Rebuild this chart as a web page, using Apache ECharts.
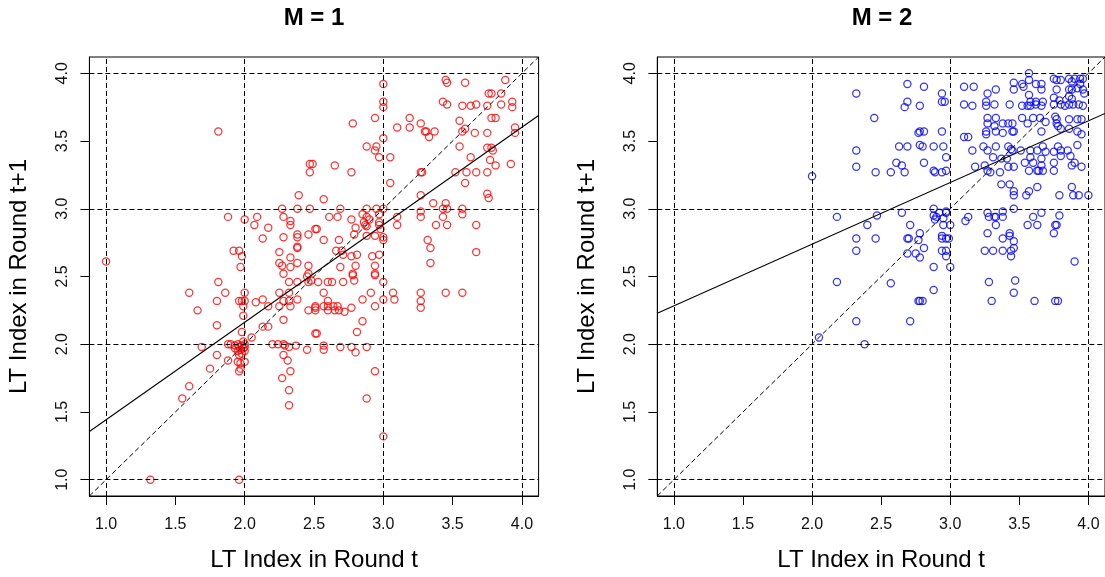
<!DOCTYPE html>
<html><head><meta charset="utf-8">
<script src="https://cdn.jsdelivr.net/npm/echarts@6/dist/echarts.min.js"></script>
<style>html,body{margin:0;padding:0;background:#fff}#c{width:1105px;height:577px}</style>
</head><body><div id="c"></div>
<script>
const panelTitles = ['M = 1', 'M = 2'];
const xTitle = 'LT Index in Round t';
const yTitle = 'LT Index in Round t+1';
const tickValues = [1, 1.5, 2, 2.5, 3, 3.5, 4];
const refLines = [1, 2, 3, 4];
const axisRange = [0.88, 4.12];
const fitM1 = [0.722, 0.720]; // intercept, slope
const fitM2 = [1.829, 0.455];

const pointsM1 = [
[1.81,3.57],[2.47,3.33],[2.49,3.33],[2.47,3.27],[2.39,3.10],[2.27,3.0],[2.38,3.0],[2.47,3.0],
[1.88,2.94],[2.0,2.92],[2.09,2.94],[2.07,2.88],[2.28,2.94],[2.33,2.91],[2.33,2.88],[2.17,2.86],[2.13,2.78],[2.28,2.79],[2.38,2.81],[2.38,2.79],[2.38,2.72],[2.38,2.71],[2.46,2.81],[2.51,2.85],
[1.92,2.69],[1.96,2.69],[1.98,2.65],[1.97,2.57],[2.25,2.68],[2.25,2.60],[2.27,2.58],[2.33,2.64],[2.33,2.57],[2.38,2.60],[2.28,2.52],[2.46,2.58],[2.46,2.52],
[1.0,2.61],
[2.48,2.47],[2.46,2.46],[1.81,2.46],[1.60,2.38],[1.86,2.38],[1.80,2.32],[1.66,2.25],
[1.96,2.32],[1.98,2.32],[2.0,2.32],[2.0,2.38],[1.99,2.28],[2.08,2.31],[2.13,2.33],[2.17,2.28],[2.25,2.38],
[2.25,2.28],[2.28,2.32],[2.32,2.32],[2.33,2.28],[2.38,2.33],[2.32,2.38],[2.32,2.46],[2.38,2.46],
[2.46,2.25],[2.51,2.27],[2.28,2.18],[1.80,2.14],[1.99,2.21],[1.98,2.09],[2.05,2.05],[2.13,2.13],[2.17,2.13],[2.51,2.08],
[1.69,1.98],[1.88,2.0],[1.90,2.0],[1.93,1.99],[1.95,2.0],[1.96,1.98],[1.98,1.99],[2.0,2.0],[1.97,1.96],[1.99,1.97],[1.95,1.95],[2.0,1.95],[1.98,1.93],[1.96,1.92],[1.93,1.97],[2.0,1.98],[1.99,2.02],
[1.80,1.92],[1.88,1.88],[1.95,1.87],[1.97,1.86],[2.0,1.87],[1.96,1.80],[1.97,1.82],[1.75,1.82],[1.60,1.69],[1.55,1.60],
[2.20,2.0],[2.24,2.0],[2.28,2.0],[2.29,1.99],[2.32,1.98],[2.37,1.99],[2.28,1.92],[2.31,1.88],[2.33,1.80],[2.27,1.75],[2.32,1.66],[2.32,1.55],[2.45,1.96],
[1.32,1.0],[1.96,1.0],
[3.0,3.92],[3.0,3.79],[3.0,3.75],[2.94,3.67],[2.78,3.63],[3.0,3.52],[2.88,3.46],[2.95,3.46],[2.94,3.43],[2.97,3.38],[3.05,3.38],[3.05,3.19],
[2.65,3.32],[2.77,3.27],[2.57,3.07],[2.69,3.0],[2.88,3.0],[2.95,3.0],[3.0,3.0],
[2.61,2.94],[2.67,2.94],[2.77,2.92],[2.85,2.96],[2.86,2.90],[2.88,2.94],[2.90,2.92],[2.97,2.96],[2.97,2.90],
[2.87,2.88],[2.88,2.87],[2.80,2.86],[2.97,2.88],[2.98,2.85],[2.52,2.85],
[2.57,2.77],[2.68,2.77],[2.79,2.81],[2.88,2.80],[2.94,2.80],[3.0,2.77],[3.0,2.79],
[2.66,2.69],[2.70,2.69],[2.71,2.66],[2.77,2.65],[2.81,2.66],[2.92,2.65],[2.97,2.66],
[2.69,2.57],[2.80,2.58],[2.94,2.58],[2.78,2.52],[2.94,2.52],
[3.10,3.60],[3.19,3.67],[3.19,3.60],[3.27,3.63],[3.30,3.57],[3.31,3.57],[3.33,3.53],[3.37,3.57],
[3.27,3.27],[3.28,3.27],[3.27,3.10],[3.36,3.04],[3.45,3.04],[3.46,3.0],[3.43,3.0],[3.57,3.0],[3.57,2.96],
[3.27,2.98],[3.27,2.94],[3.10,2.94],[3.10,2.88],[3.43,2.94],[3.38,2.88],[3.46,2.88],[3.67,2.88],
[3.32,2.77],[3.34,2.71],[3.34,2.60],[3.67,2.68],
[3.45,3.95],[3.46,3.93],[3.59,3.93],[3.88,3.95],[3.76,3.85],[3.78,3.85],[3.85,3.85],
[3.43,3.79],[3.46,3.77],[3.57,3.76],[3.63,3.76],[3.67,3.77],[3.75,3.76],[3.85,3.77],[3.93,3.79],[3.93,3.75],
[3.55,3.65],[3.59,3.59],[3.57,3.57],[3.66,3.56],[3.78,3.67],[3.81,3.67],[3.95,3.60],[3.95,3.56],[3.75,3.56],
[3.55,3.46],[3.63,3.38],[3.75,3.45],[3.78,3.45],[3.79,3.43],[3.77,3.36],[3.81,3.32],[3.92,3.33],
[3.52,3.27],[3.60,3.27],[3.67,3.27],[3.75,3.27],[3.59,3.19],[3.75,3.11],[3.76,3.08],
[2.45,2.50],[2.53,2.46],[2.60,2.46],[2.63,2.46],[2.71,2.46],[2.78,2.51],[2.79,2.47],[2.94,2.51],[3.0,2.46],
[2.57,2.38],[2.91,2.38],[3.07,2.38],[3.27,2.38],[3.45,2.38],[3.57,2.38],
[2.60,2.32],[2.85,2.33],[3.0,2.33],[3.08,2.33],[3.27,2.32],
[2.51,2.28],[2.51,2.25],[2.57,2.28],[2.60,2.28],[2.64,2.28],[2.67,2.28],[2.60,2.25],[2.65,2.25],[2.68,2.25],[2.72,2.24],[2.77,2.27],[2.94,2.28],[3.27,2.27],
[2.85,2.17],[2.52,2.08],[2.81,2.09],
[2.57,1.99],[2.57,1.96],[2.69,1.98],[2.77,1.98],[2.80,1.94],[2.88,1.98],
[2.94,1.80],[2.88,1.60],[3.0,1.32]
];

const pointsM2 = [
[2.32,3.85],[2.32,3.43],[2.32,3.31],[2.0,3.24],[2.18,2.94],[2.40,2.88],[2.32,2.78],[2.32,2.69],
[2.18,2.46],[2.57,2.45],[2.32,2.17],[2.05,2.05],[2.38,2.0],
[2.88,2.40],[2.77,2.32],[2.78,2.32],[2.80,2.32],[2.71,2.17],
[3.28,2.46],[3.47,2.47],[3.46,2.38],[3.30,2.32],[3.61,2.32],[3.76,2.32],[3.78,2.32],
[3.57,4.0],[3.57,3.95],[2.69,3.92],[2.81,3.90],[3.10,3.90],[3.17,3.90],[3.33,3.88],
[3.46,3.93],[3.46,3.88],[3.52,3.92],[3.53,3.90],[3.62,3.92],[3.66,3.92],[3.66,3.88],
[3.75,3.96],[3.77,3.95],[3.80,3.95],[3.86,3.96],[3.88,3.94],[3.90,3.96],[3.94,3.96],[3.96,3.96],
[3.94,3.92],[3.96,3.88],[3.97,3.85],[3.77,3.88],[3.86,3.88],[3.88,3.88],[3.92,3.89],
[2.94,3.85],[2.94,3.79],[2.96,3.79],[2.69,3.79],[2.67,3.75],[2.78,3.76],
[3.27,3.85],[3.26,3.79],[3.26,3.76],[3.32,3.77],[3.10,3.77],[3.16,3.76],[3.43,3.77],
[3.52,3.76],[3.56,3.76],[3.58,3.76],[3.62,3.77],[3.66,3.76],
[3.57,3.84],[3.58,3.79],[3.62,3.79],[3.67,3.79],
[3.75,3.82],[3.79,3.80],[3.86,3.83],[3.88,3.81],
[3.75,3.77],[3.80,3.77],[3.83,3.76],[3.86,3.77],[3.89,3.77],[3.93,3.77],[3.96,3.76],
[2.45,3.67],
[3.27,3.67],[3.33,3.67],[3.42,3.63],[3.27,3.63],[3.32,3.61],[3.38,3.63],[3.45,3.63],
[3.52,3.67],[3.56,3.63],[3.60,3.67],[3.65,3.67],
[3.69,3.64],[3.76,3.68],[3.77,3.66],[3.77,3.63],[3.78,3.61],[3.80,3.59],
[3.86,3.66],[3.92,3.66],[3.95,3.66],
[2.78,3.57],[2.77,3.56],[2.81,3.57],[2.94,3.57],
[3.26,3.57],[3.26,3.55],[3.33,3.57],[3.38,3.56],[3.45,3.57],[3.46,3.57],
[3.66,3.57],[3.86,3.59],[3.92,3.57],[3.95,3.55],
[3.10,3.53],[3.13,3.53],
[2.63,3.46],[2.69,3.46],[2.78,3.47],[2.80,3.46],[2.88,3.46],[2.95,3.46],
[3.16,3.43],[3.24,3.46],[3.27,3.43],[3.33,3.46],
[3.42,3.46],[3.44,3.44],[3.45,3.43],[3.51,3.43],
[3.58,3.43],[3.63,3.43],[3.67,3.46],[3.69,3.42],[3.75,3.42],[3.78,3.46],[3.80,3.43],[3.85,3.43],[3.92,3.47],
[2.97,3.38],[3.31,3.38],[3.37,3.37],[3.41,3.37],
[3.58,3.38],[3.66,3.37],[3.80,3.39],[3.87,3.39],
[2.61,3.34],[2.65,3.32],[2.67,3.27],[2.81,3.34],[2.46,3.27],[2.57,3.27],
[2.88,3.28],[2.89,3.27],[2.94,3.27],[2.97,3.28],
[3.18,3.31],[3.25,3.32],[3.27,3.28],[3.29,3.27],[3.36,3.27],[3.42,3.31],[3.46,3.31],
[3.54,3.34],[3.60,3.34],[3.66,3.32],
[3.57,3.28],[3.63,3.28],[3.64,3.28],[3.67,3.28],[3.75,3.28],[3.75,3.34],
[3.88,3.32],[3.90,3.34],[3.95,3.31],
[3.37,3.18],[3.43,3.18],[3.46,3.13],[3.46,3.10],[3.57,3.13],[3.55,3.10],[3.63,3.16],
[3.88,3.16],[3.89,3.10],[3.93,3.10],[4.0,3.10],[3.79,3.10],
[2.47,2.95],[2.65,2.97],[2.88,3.0],[2.88,2.95],[2.90,2.94],[2.92,2.97],[2.97,2.97],[2.97,2.98],[2.95,2.93],[2.89,2.92],
[2.71,2.88],[2.95,2.88],[3.0,2.88],
[3.11,2.91],[3.13,2.94],[3.27,2.97],[3.28,2.94],[3.32,2.94],[3.33,2.94],[3.38,2.98],[3.38,2.94],[3.46,3.0],[3.33,2.88],
[3.56,2.88],[3.60,2.94],[3.63,2.88],[3.66,2.97],[3.76,2.88],[3.77,2.88],[3.79,2.95],[3.75,2.82],
[2.46,2.78],[2.69,2.78],[2.70,2.78],[2.78,2.82],[2.77,2.77],[2.94,2.80],[2.94,2.78],[2.97,2.78],[2.99,2.78],
[3.27,2.82],[3.38,2.78],[3.43,2.82],[3.43,2.80],[3.46,2.76],
[2.81,2.71],[2.94,2.69],[2.97,2.69],[2.69,2.67],[2.75,2.67],[2.78,2.64],[2.97,2.65],
[3.25,2.69],[3.31,2.69],[3.38,2.69],[3.44,2.69],[3.46,2.71],[3.44,2.65],
[2.88,2.57],[3.0,2.57],[3.90,2.61]
];

const FONT = "'Liberation Sans', Arial, Helvetica, sans-serif";
const panels = [
  {title: panelTitles[0], pts: pointsM1, fit: fitM1, color: '#FF0000', left: 89.4, cx: 314},
  {title: panelTitles[1], pts: pointsM2, fit: fitM2, color: '#0000FF', left: 657.3, cx: 882}
];
const gridW = 449.2, gridTop = 57, gridH = 439;

const grids = [], xAxes = [], yAxes = [], series = [], titles = [];
panels.forEach((p, i) => {
  grids.push({left: p.left, top: gridTop, width: gridW, height: gridH, show: true,
    borderColor: '#000', borderWidth: 1, backgroundColor: 'transparent', containLabel: false});
  titles.push({text: p.title, left: p.cx, top: 6, textAlign: 'center', padding: 0,
    textStyle: {fontSize: 24, fontWeight: 'bold', color: '#000', fontFamily: FONT}});
  const base = {
    gridIndex: i, type: 'value', min: axisRange[0], max: axisRange[1],
    splitLine: {show: false},
    axisLine: {show: true, onZero: false, lineStyle: {color: '#000', width: 1}},
    axisTick: {show: true, inside: false, length: 9, customValues: tickValues, lineStyle: {color: '#000', width: 1}},
    nameLocation: 'middle',
    nameTextStyle: {fontSize: 24, color: '#000', fontFamily: FONT}
  };
  xAxes.push(Object.assign({}, base, {
    name: xTitle, nameGap: 52,
    axisLabel: {customValues: tickValues, formatter: v => v.toFixed(1), color: '#111', fontSize: 16, fontFamily: FONT, margin: 21}
  }));
  yAxes.push(Object.assign({}, base, {
    name: yTitle, nameGap: 58, nameRotate: 90,
    axisLabel: {customValues: tickValues, formatter: v => v.toFixed(1), color: '#111', fontSize: 16, fontFamily: FONT, margin: 19, rotate: 90}
  }));
  const refMark = {
    silent: true, symbol: ['none', 'none'], label: {show: false}, animation: false,
    lineStyle: {type: [5, 3], color: '#000', width: 1},
    emphasis: {disabled: true},
    data: refLines.map(v => ({xAxis: v})).concat(refLines.map(v => ({yAxis: v})))
  };
  // diagonal y = x
  series.push({type: 'line', xAxisIndex: i, yAxisIndex: i, showSymbol: false, silent: true,
    data: [[axisRange[0], axisRange[0]], [axisRange[1], axisRange[1]]],
    lineStyle: {type: [5, 3], color: '#000', width: 1}, markLine: refMark, z: 3});
  // fitted regression line
  series.push({type: 'line', xAxisIndex: i, yAxisIndex: i, showSymbol: false, silent: true,
    data: axisRange.map(x => [x, p.fit[0] + p.fit[1] * x]),
    lineStyle: {color: '#000', width: 1.1}, z: 3});
  series.push({type: 'scatter', xAxisIndex: i, yAxisIndex: i, data: p.pts,
    symbol: 'circle', symbolSize: 7.2,
    itemStyle: {color: 'rgba(0,0,0,0)', borderColor: p.color, borderWidth: 1.25}, z: 2});
});

const chart = echarts.init(document.getElementById('c'), null, {renderer: 'canvas'});
chart.setOption({
  animation: false, backgroundColor: '#fff',
  title: titles, grid: grids, xAxis: xAxes, yAxis: yAxes, series: series
});
</script></body></html>
